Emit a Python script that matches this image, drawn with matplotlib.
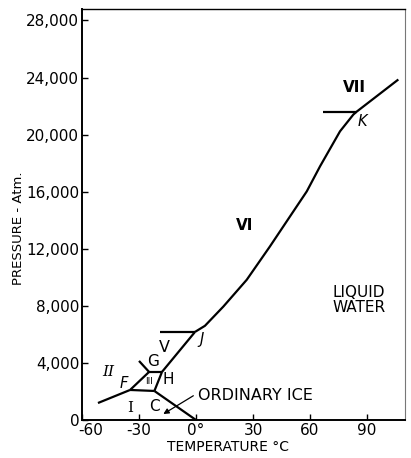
import matplotlib
matplotlib.use("Agg")
import matplotlib.pyplot as plt
import matplotlib.transforms as mtransforms

# Phase boundaries of ice, temperature in deg C and pressure in atm
ice_I_liquid_t = [-21.9, 0.0]
ice_I_liquid_p = [2035, 0]

ice_I_II_t = [-51.6, -34.7]
ice_I_II_p = [1190, 2105]

ice_I_III_t = [-34.7, -21.9]
ice_I_III_p = [2105, 2035]

ice_II_III_t = [-34.7, -24.7]
ice_II_III_p = [2105, 3370]

ice_II_V_t = [-24.7, -30.0]
ice_II_V_p = [3370, 4140]

ice_III_V_t = [-24.7, -17.9]
ice_III_V_p = [3370, 3370]

ice_III_liquid_t = [-21.9, -17.9]
ice_III_liquid_p = [2035, 3370]

ice_V_liquid_t = [-17.9, -0.5]
ice_V_liquid_p = [3370, 6175]

ice_V_VI_t = [-19.0, -0.5]
ice_V_VI_p = [6175, 6175]

ice_VI_liquid_t = [-0.5, 4.7, 14.4, 26.7, 38.9, 49.5, 58.3, 65.3, 75.8, 82.8, 84.5]
ice_VI_liquid_p = [6175, 6600, 7950, 9825, 12160, 14270, 16020, 17780, 20230, 21400, 21600]

ice_VI_VII_t = [67.0, 84.5]
ice_VI_VII_p = [21600, 21600]

ice_VII_liquid_t = [84.5, 106.5]
ice_VII_liquid_p = [21600, 23860]

x_ticks = [-60, -30, 0, 30, 60, 90]
x_tick_labels = ["-60", "-30", "0°", "30", "60", "90"]
y_ticks = [0, 4000, 8000, 12000, 16000, 20000, 24000, 28000]
y_tick_labels = ["0", "4,000", "8,000", "12,000", "16,000", "20,000", "24,000", "28,000"]

fig = plt.figure(figsize=(4.11, 4.58), dpi=100)
ax = fig.add_axes([82 / 411, 1 - 420 / 458, (405 - 82) / 411, (420 - 9) / 458])

lw = 1.6
boundaries = [
    (ice_I_liquid_t, ice_I_liquid_p),
    (ice_I_II_t, ice_I_II_p),
    (ice_I_III_t, ice_I_III_p),
    (ice_II_III_t, ice_II_III_p),
    (ice_II_V_t, ice_II_V_p),
    (ice_III_V_t, ice_III_V_p),
    (ice_III_liquid_t, ice_III_liquid_p),
    (ice_V_liquid_t, ice_V_liquid_p),
    (ice_V_VI_t, ice_V_VI_p),
    (ice_VI_liquid_t, ice_VI_liquid_p),
    (ice_VI_VII_t, ice_VI_VII_p),
    (ice_VII_liquid_t, ice_VII_liquid_p),
]
for t, p in boundaries:
    ax.plot(t, p, color="black", lw=lw, solid_capstyle="butt", solid_joinstyle="round")

ax.set_xlim(-60, 110)
ax.set_ylim(0, 28800)
ax.set_xticks(x_ticks)
ax.set_xticklabels(x_tick_labels, fontsize=11)
ax.set_yticks(y_ticks)
ax.set_yticklabels(y_tick_labels, fontsize=11)
ax.tick_params(direction="in", length=4, width=1, pad=2)

# nudge the first temperature label clear of the corner "0"
first = ax.get_xticklabels()[0]
first.set_transform(first.get_transform() + mtransforms.ScaledTranslation(9 / 100, 0, fig.dpi_scale_trans))

ax.spines["left"].set_linewidth(1.4)
ax.spines["bottom"].set_linewidth(1.4)
ax.spines["top"].set_linewidth(1.0)
ax.spines["right"].set_linewidth(0.8)
ax.spines["right"].set_color("#777777")

# phase region and triple point labels
ax.text(83.2, 23280, "VII", fontsize=11, fontweight="bold", ha="center", va="center")
ax.text(87.7, 20940, "K", fontsize=10.5, style="italic", ha="center", va="center")
ax.text(25.8, 13600, "VI", fontsize=11, fontweight="bold", ha="center", va="center")
ax.text(72, 8420, "LIQUID\nWATER", fontsize=11, ha="left", va="center", linespacing=1.05)
ax.text(3.0, 5615, "J", fontsize=10.5, style="italic", ha="center", va="center")
ax.text(-16.8, 5050, "V", fontsize=11.5, ha="center", va="center")
ax.text(-22.5, 4090, "G", fontsize=11, ha="center", va="center")
ax.text(-14.6, 2855, "H", fontsize=11, ha="center", va="center")
ax.text(-46.2, 3390, "II", fontsize=11, family="DejaVu Serif", style="italic", ha="center", va="center")
ax.text(-37.9, 2575, "F", fontsize=10.5, style="italic", ha="center", va="center")
ax.text(-24.6, 2690, "III", fontsize=6.5, ha="center", va="center")
ax.text(-34.4, 820, "I", fontsize=11, family="DejaVu Serif", ha="center", va="center")
ax.text(-21.9, 980, "C", fontsize=11, ha="center", va="center")
ax.text(0.8, 1700, "ORDINARY ICE", fontsize=11.5, ha="left", va="center")
ax.annotate("", xy=(-17.2, 420), xytext=(-1.4, 1700),
            arrowprops=dict(arrowstyle="-|>", color="black", lw=0.9, mutation_scale=8,
                            shrinkA=0, shrinkB=0))

fig.text(228 / 411, 1 - 447 / 458, "TEMPERATURE °C", fontsize=10, ha="center", va="center")
fig.text(18 / 411, 1 - 228 / 458, "PRESSURE - Atm.", fontsize=9.5, rotation=90,
         ha="center", va="center")

fig.savefig("out.png", dpi=100)
